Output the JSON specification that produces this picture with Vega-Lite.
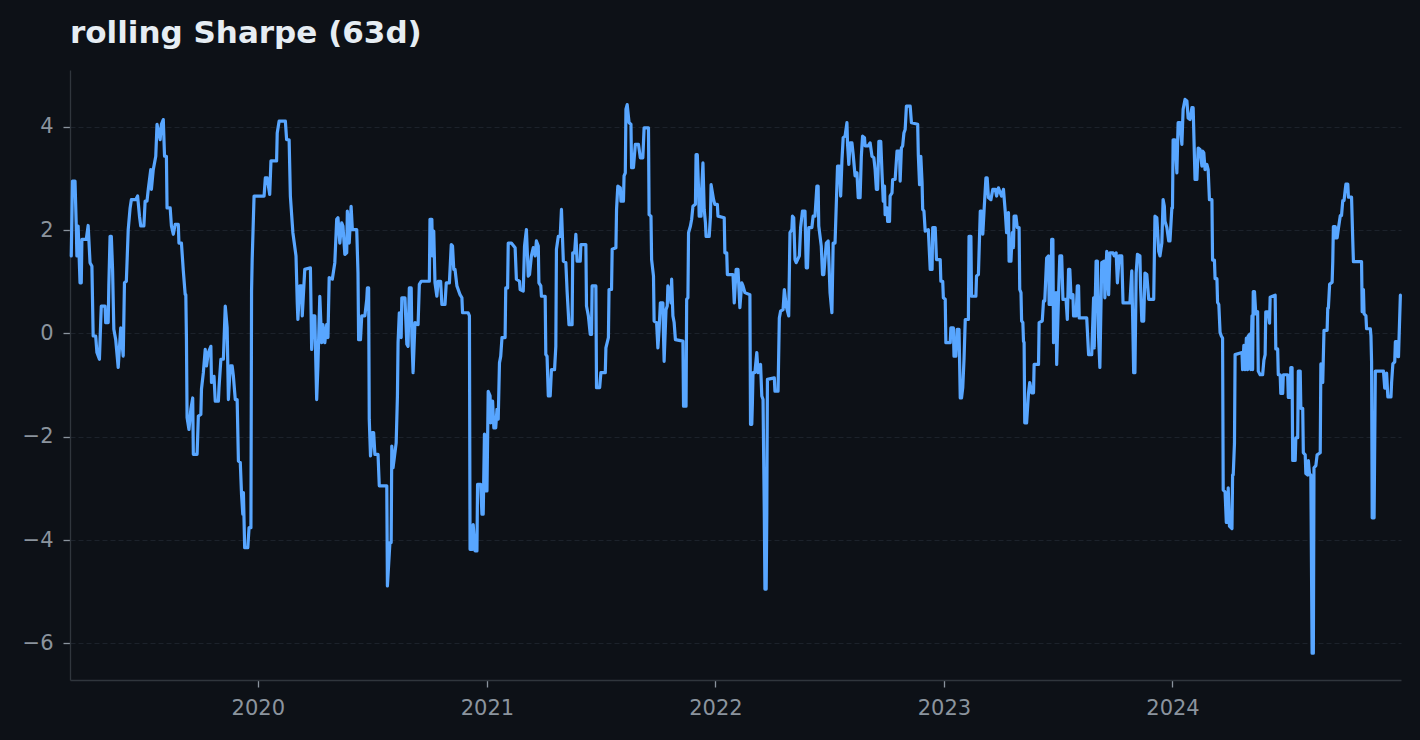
{
  "$schema": "https://vega.github.io/schema/vega-lite/v6.json",
  "width": 1331,
  "height": 610,
  "autosize": {"type": "none"},
  "padding": {"left": 70, "top": 70, "right": 19, "bottom": 60},
  "background": "#0d1117",
  "config": {"view": {"stroke": null}},
  "title": {"text": "rolling Sharpe (63d)", "anchor": "start", "frame": "group", "font": "DejaVu Sans", "fontSize": 31, "fontWeight": "bold", "color": "#e6edf3", "offset": 20},
  "data": {
    "format": {"parse": {"d": "date:'%Y-%j'"}},
    "values": [
      {"d":"2019-068","v":1.50},{"d":"2019-070","v":2.95},{"d":"2019-074","v":2.95},{"d":"2019-076","v":2.08},{"d":"2019-077","v":1.50},{"d":"2019-079","v":2.08},{"d":"2019-082","v":0.98},{"d":"2019-084","v":0.98},{"d":"2019-085","v":1.82},{"d":"2019-092","v":1.82},{"d":"2019-095","v":2.09},{"d":"2019-098","v":1.37},{"d":"2019-101","v":1.30},{"d":"2019-103","v":-0.05},{"d":"2019-107","v":-0.05},{"d":"2019-109","v":-0.37},{"d":"2019-113","v":-0.50},{"d":"2019-115","v":0.21},{"d":"2019-116","v":0.53},{"d":"2019-122","v":0.53},{"d":"2019-123","v":0.21},{"d":"2019-127","v":0.21},{"d":"2019-128","v":0.92},{"d":"2019-130","v":1.88},{"d":"2019-132","v":1.88},{"d":"2019-134","v":1.24},{"d":"2019-136","v":0.08},{"d":"2019-139","v":-0.12},{"d":"2019-143","v":-0.66},{"d":"2019-147","v":0.11},{"d":"2019-151","v":-0.44},{"d":"2019-153","v":0.98},{"d":"2019-156","v":1.01},{"d":"2019-159","v":2.01},{"d":"2019-162","v":2.43},{"d":"2019-164","v":2.59},{"d":"2019-171","v":2.59},{"d":"2019-174","v":2.66},{"d":"2019-177","v":2.27},{"d":"2019-179","v":2.08},{"d":"2019-184","v":2.08},{"d":"2019-186","v":2.56},{"d":"2019-189","v":2.56},{"d":"2019-191","v":2.79},{"d":"2019-195","v":3.17},{"d":"2019-196","v":2.79},{"d":"2019-199","v":3.17},{"d":"2019-203","v":3.43},{"d":"2019-205","v":4.05},{"d":"2019-210","v":3.75},{"d":"2019-212","v":4.05},{"d":"2019-215","v":4.14},{"d":"2019-217","v":3.43},{"d":"2019-220","v":3.43},{"d":"2019-221","v":2.43},{"d":"2019-226","v":2.43},{"d":"2019-228","v":2.08},{"d":"2019-231","v":1.92},{"d":"2019-234","v":2.11},{"d":"2019-239","v":2.11},{"d":"2019-240","v":1.75},{"d":"2019-244","v":1.75},{"d":"2019-247","v":1.21},{"d":"2019-250","v":0.75},{"d":"2019-251","v":0.75},{"d":"2019-252","v":-0.12},{"d":"2019-253","v":-1.63},{"d":"2019-256","v":-1.86},{"d":"2019-259","v":-1.47},{"d":"2019-262","v":-1.25},{"d":"2019-263","v":-2.34},{"d":"2019-269","v":-2.34},{"d":"2019-271","v":-1.60},{"d":"2019-275","v":-1.57},{"d":"2019-276","v":-1.08},{"d":"2019-279","v":-0.76},{"d":"2019-282","v":-0.31},{"d":"2019-284","v":-0.63},{"d":"2019-287","v":-0.37},{"d":"2019-291","v":-0.25},{"d":"2019-292","v":-0.95},{"d":"2019-296","v":-0.83},{"d":"2019-298","v":-1.31},{"d":"2019-303","v":-1.31},{"d":"2019-304","v":-1.05},{"d":"2019-307","v":-0.50},{"d":"2019-311","v":-0.50},{"d":"2019-314","v":0.53},{"d":"2019-317","v":0.11},{"d":"2019-319","v":-1.28},{"d":"2019-322","v":-0.63},{"d":"2019-325","v":-0.63},{"d":"2019-327","v":-0.83},{"d":"2019-330","v":-1.28},{"d":"2019-333","v":-1.28},{"d":"2019-335","v":-2.47},{"d":"2019-338","v":-2.50},{"d":"2019-340","v":-3.12},{"d":"2019-342","v":-3.50},{"d":"2019-343","v":-3.08},{"d":"2019-345","v":-4.15},{"d":"2019-350","v":-4.15},{"d":"2019-352","v":-3.76},{"d":"2019-355","v":-3.76},{"d":"2019-356","v":0.82},{"d":"2019-357","v":1.43},{"d":"2019-360","v":2.66},
      {"d":"2020-011","v":2.66},{"d":"2020-013","v":3.01},{"d":"2020-016","v":3.01},{"d":"2020-020","v":2.69},{"d":"2020-022","v":3.34},{"d":"2020-031","v":3.34},{"d":"2020-032","v":3.88},{"d":"2020-035","v":4.11},{"d":"2020-045","v":4.11},{"d":"2020-047","v":3.75},{"d":"2020-051","v":3.75},{"d":"2020-053","v":2.66},{"d":"2020-057","v":1.95},{"d":"2020-062","v":1.50},{"d":"2020-064","v":0.59},{"d":"2020-065","v":0.27},{"d":"2020-068","v":0.92},{"d":"2020-071","v":0.92},{"d":"2020-072","v":0.34},{"d":"2020-076","v":1.24},{"d":"2020-085","v":1.27},{"d":"2020-087","v":-0.31},{"d":"2020-089","v":0.34},{"d":"2020-092","v":0.34},{"d":"2020-095","v":-1.28},{"d":"2020-097","v":-0.63},{"d":"2020-100","v":0.72},{"d":"2020-103","v":-0.18},{"d":"2020-105","v":0.17},{"d":"2020-108","v":-0.18},{"d":"2020-111","v":0.17},{"d":"2020-113","v":-0.08},{"d":"2020-115","v":1.08},{"d":"2020-120","v":1.05},{"d":"2020-124","v":1.37},{"d":"2020-127","v":2.21},{"d":"2020-129","v":2.24},{"d":"2020-132","v":1.75},{"d":"2020-135","v":2.14},{"d":"2020-137","v":2.08},{"d":"2020-140","v":1.53},{"d":"2020-143","v":1.56},{"d":"2020-144","v":2.37},{"d":"2020-147","v":1.75},{"d":"2020-150","v":2.46},{"d":"2020-152","v":2.01},{"d":"2020-159","v":2.01},{"d":"2020-161","v":1.17},{"d":"2020-162","v":-0.12},{"d":"2020-165","v":-0.12},{"d":"2020-167","v":0.34},{"d":"2020-172","v":0.34},{"d":"2020-175","v":0.66},{"d":"2020-176","v":0.88},{"d":"2020-178","v":0.88},{"d":"2020-179","v":-1.66},{"d":"2020-181","v":-2.37},{"d":"2020-184","v":-1.92},{"d":"2020-186","v":-1.92},{"d":"2020-188","v":-2.34},{"d":"2020-193","v":-2.34},{"d":"2020-195","v":-2.95},{"d":"2020-207","v":-2.95},{"d":"2020-208","v":-4.89},{"d":"2020-212","v":-4.05},{"d":"2020-214","v":-4.05},{"d":"2020-215","v":-2.18},{"d":"2020-217","v":-2.60},{"d":"2020-222","v":-2.12},{"d":"2020-224","v":-1.21},{"d":"2020-225","v":-0.18},{"d":"2020-227","v":0.40},{"d":"2020-230","v":-0.08},{"d":"2020-231","v":0.69},{"d":"2020-236","v":0.69},{"d":"2020-239","v":-0.21},{"d":"2020-241","v":-0.25},{"d":"2020-243","v":0.88},{"d":"2020-246","v":0.88},{"d":"2020-247","v":-0.05},{"d":"2020-249","v":-0.76},{"d":"2020-252","v":0.21},{"d":"2020-257","v":0.17},{"d":"2020-259","v":0.95},{"d":"2020-262","v":1.01},{"d":"2020-275","v":1.01},{"d":"2020-276","v":2.21},{"d":"2020-279","v":2.21},{"d":"2020-280","v":1.50},{"d":"2020-282","v":1.98},{"d":"2020-284","v":0.98},{"d":"2020-287","v":0.72},{"d":"2020-289","v":1.01},{"d":"2020-293","v":1.01},{"d":"2020-295","v":0.56},{"d":"2020-300","v":0.56},{"d":"2020-302","v":0.98},{"d":"2020-307","v":0.98},{"d":"2020-310","v":1.72},{"d":"2020-312","v":1.69},{"d":"2020-314","v":1.24},{"d":"2020-316","v":1.24},{"d":"2020-319","v":0.92},{"d":"2020-324","v":0.75},{"d":"2020-327","v":0.69},{"d":"2020-328","v":0.40},{"d":"2020-337","v":0.40},{"d":"2020-339","v":0.34},{"d":"2020-340","v":-4.18},{"d":"2020-344","v":-4.18},{"d":"2020-345","v":-3.70},{"d":"2020-348","v":-4.21},{"d":"2020-351","v":-4.21},{"d":"2020-352","v":-2.92},{"d":"2020-357","v":-2.92},{"d":"2020-359","v":-3.50},{"d":"2020-361","v":-3.50},{"d":"2020-363","v":-1.95},{"d":"2020-365","v":-3.05},
      {"d":"2021-001","v":-3.05},{"d":"2021-003","v":-1.12},{"d":"2021-006","v":-1.21},{"d":"2021-007","v":-1.73},{"d":"2021-010","v":-1.31},{"d":"2021-012","v":-1.83},{"d":"2021-015","v":-1.83},{"d":"2021-017","v":-1.47},{"d":"2021-019","v":-1.66},{"d":"2021-021","v":-0.57},{"d":"2021-023","v":-0.44},{"d":"2021-025","v":-0.08},{"d":"2021-030","v":-0.08},{"d":"2021-031","v":0.88},{"d":"2021-034","v":0.88},{"d":"2021-035","v":1.75},{"d":"2021-040","v":1.75},{"d":"2021-046","v":1.66},{"d":"2021-048","v":1.05},{"d":"2021-053","v":1.01},{"d":"2021-054","v":0.85},{"d":"2021-059","v":0.82},{"d":"2021-061","v":1.69},{"d":"2021-064","v":2.01},{"d":"2021-067","v":1.11},{"d":"2021-069","v":1.14},{"d":"2021-072","v":1.50},{"d":"2021-075","v":1.66},{"d":"2021-078","v":1.50},{"d":"2021-080","v":1.79},{"d":"2021-083","v":1.69},{"d":"2021-084","v":0.98},{"d":"2021-087","v":0.92},{"d":"2021-088","v":0.72},{"d":"2021-094","v":0.72},{"d":"2021-095","v":-0.41},{"d":"2021-097","v":-0.44},{"d":"2021-099","v":-1.21},{"d":"2021-102","v":-1.21},{"d":"2021-104","v":-0.70},{"d":"2021-109","v":-0.70},{"d":"2021-111","v":-0.25},{"d":"2021-112","v":1.63},{"d":"2021-115","v":1.88},{"d":"2021-118","v":1.88},{"d":"2021-120","v":2.40},{"d":"2021-123","v":1.40},{"d":"2021-127","v":1.37},{"d":"2021-129","v":0.82},{"d":"2021-132","v":0.17},{"d":"2021-137","v":0.17},{"d":"2021-138","v":1.56},{"d":"2021-141","v":1.56},{"d":"2021-143","v":1.92},{"d":"2021-145","v":1.40},{"d":"2021-150","v":1.40},{"d":"2021-151","v":1.72},{"d":"2021-159","v":1.72},{"d":"2021-160","v":0.53},{"d":"2021-163","v":0.34},{"d":"2021-166","v":-0.02},{"d":"2021-168","v":-0.02},{"d":"2021-169","v":0.92},{"d":"2021-175","v":0.92},{"d":"2021-176","v":-1.05},{"d":"2021-181","v":-1.05},{"d":"2021-183","v":-0.76},{"d":"2021-190","v":-0.76},{"d":"2021-191","v":-0.28},{"d":"2021-195","v":-0.08},{"d":"2021-196","v":0.85},{"d":"2021-200","v":0.85},{"d":"2021-201","v":1.63},{"d":"2021-207","v":1.66},{"d":"2021-208","v":2.40},{"d":"2021-210","v":2.85},{"d":"2021-214","v":2.82},{"d":"2021-215","v":2.56},{"d":"2021-219","v":2.56},{"d":"2021-220","v":3.05},{"d":"2021-222","v":3.11},{"d":"2021-223","v":4.34},{"d":"2021-225","v":4.43},{"d":"2021-228","v":4.08},{"d":"2021-231","v":4.05},{"d":"2021-232","v":3.21},{"d":"2021-235","v":3.21},{"d":"2021-238","v":3.66},{"d":"2021-243","v":3.66},{"d":"2021-246","v":3.40},{"d":"2021-250","v":3.40},{"d":"2021-252","v":3.98},{"d":"2021-259","v":3.98},{"d":"2021-260","v":2.30},{"d":"2021-263","v":2.27},{"d":"2021-264","v":1.43},{"d":"2021-267","v":1.11},{"d":"2021-268","v":0.24},{"d":"2021-272","v":0.21},{"d":"2021-274","v":-0.28},{"d":"2021-276","v":0.08},{"d":"2021-278","v":0.59},{"d":"2021-282","v":0.59},{"d":"2021-283","v":-0.05},{"d":"2021-284","v":-0.54},{"d":"2021-287","v":0.46},{"d":"2021-289","v":0.53},{"d":"2021-290","v":0.92},{"d":"2021-292","v":0.85},{"d":"2021-295","v":0.59},{"d":"2021-296","v":1.05},{"d":"2021-298","v":0.34},{"d":"2021-300","v":0.21},{"d":"2021-302","v":-0.12},{"d":"2021-314","v":-0.15},{"d":"2021-315","v":-1.41},{"d":"2021-319","v":-1.41},{"d":"2021-320","v":0.66},{"d":"2021-322","v":0.69},{"d":"2021-323","v":1.95},{"d":"2021-326","v":2.08},{"d":"2021-328","v":2.21},{"d":"2021-330","v":2.46},{"d":"2021-334","v":2.50},{"d":"2021-335","v":3.46},{"d":"2021-337","v":3.46},{"d":"2021-339","v":2.79},{"d":"2021-340","v":2.27},{"d":"2021-343","v":2.27},{"d":"2021-344","v":2.79},{"d":"2021-346","v":3.30},{"d":"2021-348","v":2.40},{"d":"2021-350","v":2.14},{"d":"2021-351","v":1.88},{"d":"2021-356","v":1.88},{"d":"2021-358","v":2.27},{"d":"2021-359","v":2.88},{"d":"2021-363","v":2.59},{"d":"2021-365","v":2.50},
      {"d":"2022-004","v":2.50},{"d":"2022-005","v":2.27},{"d":"2022-015","v":2.24},{"d":"2022-016","v":1.56},{"d":"2022-019","v":1.56},{"d":"2022-020","v":1.14},{"d":"2022-029","v":1.14},{"d":"2022-031","v":0.59},{"d":"2022-034","v":1.24},{"d":"2022-037","v":1.24},{"d":"2022-040","v":0.50},{"d":"2022-043","v":0.98},{"d":"2022-045","v":0.92},{"d":"2022-048","v":0.79},{"d":"2022-056","v":0.75},{"d":"2022-057","v":-1.76},{"d":"2022-059","v":-1.76},{"d":"2022-060","v":-1.34},{"d":"2022-061","v":-0.76},{"d":"2022-064","v":-0.76},{"d":"2022-067","v":-0.37},{"d":"2022-069","v":-0.76},{"d":"2022-073","v":-0.60},{"d":"2022-075","v":-1.21},{"d":"2022-077","v":-1.28},{"d":"2022-079","v":-3.47},{"d":"2022-080","v":-4.95},{"d":"2022-082","v":-4.95},{"d":"2022-083","v":-3.47},{"d":"2022-084","v":-0.89},{"d":"2022-095","v":-0.86},{"d":"2022-096","v":-1.12},{"d":"2022-101","v":-1.12},{"d":"2022-103","v":0.30},{"d":"2022-105","v":0.43},{"d":"2022-109","v":0.46},{"d":"2022-111","v":0.85},{"d":"2022-114","v":0.53},{"d":"2022-118","v":0.34},{"d":"2022-120","v":1.95},{"d":"2022-123","v":2.01},{"d":"2022-124","v":2.27},{"d":"2022-126","v":2.24},{"d":"2022-128","v":1.43},{"d":"2022-130","v":1.37},{"d":"2022-135","v":1.50},{"d":"2022-137","v":2.05},{"d":"2022-140","v":2.37},{"d":"2022-144","v":2.37},{"d":"2022-146","v":1.27},{"d":"2022-148","v":1.27},{"d":"2022-150","v":2.05},{"d":"2022-155","v":2.05},{"d":"2022-157","v":2.27},{"d":"2022-160","v":2.27},{"d":"2022-163","v":2.85},{"d":"2022-165","v":2.85},{"d":"2022-166","v":2.08},{"d":"2022-170","v":1.69},{"d":"2022-172","v":1.14},{"d":"2022-174","v":1.14},{"d":"2022-178","v":1.75},{"d":"2022-181","v":1.79},{"d":"2022-184","v":0.79},{"d":"2022-187","v":0.40},{"d":"2022-189","v":1.75},{"d":"2022-192","v":1.75},{"d":"2022-194","v":2.50},{"d":"2022-196","v":3.24},{"d":"2022-199","v":3.24},{"d":"2022-201","v":2.66},{"d":"2022-203","v":3.34},{"d":"2022-205","v":3.79},{"d":"2022-208","v":3.82},{"d":"2022-211","v":4.08},{"d":"2022-212","v":3.66},{"d":"2022-214","v":3.27},{"d":"2022-216","v":3.69},{"d":"2022-219","v":3.69},{"d":"2022-221","v":3.46},{"d":"2022-224","v":3.05},{"d":"2022-227","v":3.11},{"d":"2022-229","v":2.63},{"d":"2022-232","v":2.63},{"d":"2022-234","v":3.43},{"d":"2022-236","v":3.82},{"d":"2022-239","v":3.79},{"d":"2022-240","v":3.63},{"d":"2022-245","v":3.63},{"d":"2022-248","v":3.69},{"d":"2022-251","v":3.43},{"d":"2022-254","v":3.40},{"d":"2022-256","v":3.17},{"d":"2022-258","v":2.79},{"d":"2022-260","v":2.79},{"d":"2022-262","v":3.72},{"d":"2022-265","v":3.72},{"d":"2022-267","v":3.11},{"d":"2022-269","v":2.56},{"d":"2022-271","v":2.85},{"d":"2022-272","v":2.30},{"d":"2022-275","v":2.43},{"d":"2022-276","v":2.17},{"d":"2022-279","v":2.17},{"d":"2022-280","v":2.66},{"d":"2022-283","v":2.72},{"d":"2022-284","v":2.98},{"d":"2022-288","v":2.98},{"d":"2022-291","v":3.53},{"d":"2022-295","v":3.53},{"d":"2022-296","v":2.95},{"d":"2022-298","v":3.59},{"d":"2022-300","v":3.63},{"d":"2022-302","v":3.88},{"d":"2022-304","v":3.95},{"d":"2022-306","v":4.40},{"d":"2022-312","v":4.40},{"d":"2022-314","v":4.08},{"d":"2022-324","v":4.05},{"d":"2022-325","v":3.46},{"d":"2022-327","v":2.88},{"d":"2022-329","v":3.43},{"d":"2022-331","v":2.92},{"d":"2022-332","v":2.40},{"d":"2022-334","v":2.37},{"d":"2022-336","v":1.98},{"d":"2022-341","v":2.01},{"d":"2022-344","v":1.24},{"d":"2022-347","v":1.24},{"d":"2022-348","v":2.05},{"d":"2022-352","v":2.05},{"d":"2022-354","v":1.43},{"d":"2022-360","v":1.43},{"d":"2022-361","v":1.01},{"d":"2022-364","v":1.01},{"d":"2022-365","v":0.69},
      {"d":"2023-003","v":0.66},{"d":"2023-004","v":-0.18},{"d":"2023-011","v":-0.18},{"d":"2023-012","v":0.11},{"d":"2023-016","v":0.11},{"d":"2023-017","v":-0.44},{"d":"2023-020","v":-0.44},{"d":"2023-022","v":0.08},{"d":"2023-025","v":0.08},{"d":"2023-027","v":-1.25},{"d":"2023-029","v":-1.25},{"d":"2023-031","v":-1.05},{"d":"2023-033","v":-0.50},{"d":"2023-035","v":0.27},{"d":"2023-040","v":0.27},{"d":"2023-041","v":1.88},{"d":"2023-044","v":1.88},{"d":"2023-045","v":0.72},{"d":"2023-052","v":0.72},{"d":"2023-053","v":1.11},{"d":"2023-056","v":1.14},{"d":"2023-059","v":2.37},{"d":"2023-061","v":2.37},{"d":"2023-063","v":1.92},{"d":"2023-065","v":2.37},{"d":"2023-068","v":3.01},{"d":"2023-070","v":3.01},{"d":"2023-072","v":2.63},{"d":"2023-076","v":2.59},{"d":"2023-079","v":2.79},{"d":"2023-083","v":2.79},{"d":"2023-085","v":2.66},{"d":"2023-088","v":2.82},{"d":"2023-091","v":2.72},{"d":"2023-093","v":2.66},{"d":"2023-096","v":2.79},{"d":"2023-099","v":2.34},{"d":"2023-101","v":1.95},{"d":"2023-104","v":2.34},{"d":"2023-105","v":1.40},{"d":"2023-108","v":1.40},{"d":"2023-110","v":1.95},{"d":"2023-112","v":1.66},{"d":"2023-113","v":2.27},{"d":"2023-116","v":2.27},{"d":"2023-118","v":2.05},{"d":"2023-121","v":2.05},{"d":"2023-122","v":0.85},{"d":"2023-124","v":0.79},{"d":"2023-125","v":0.24},{"d":"2023-127","v":0.21},{"d":"2023-128","v":-0.15},{"d":"2023-129","v":-0.18},{"d":"2023-130","v":-1.73},{"d":"2023-133","v":-1.73},{"d":"2023-136","v":-1.15},{"d":"2023-138","v":-0.95},{"d":"2023-141","v":-1.15},{"d":"2023-144","v":-1.15},{"d":"2023-145","v":-0.60},{"d":"2023-152","v":-0.60},{"d":"2023-153","v":0.21},{"d":"2023-158","v":0.24},{"d":"2023-160","v":0.63},{"d":"2023-162","v":0.63},{"d":"2023-165","v":1.46},{"d":"2023-168","v":1.50},{"d":"2023-169","v":0.56},{"d":"2023-172","v":0.56},{"d":"2023-173","v":1.82},{"d":"2023-175","v":1.82},{"d":"2023-176","v":-0.18},{"d":"2023-178","v":-0.12},{"d":"2023-180","v":0.79},{"d":"2023-181","v":-0.60},{"d":"2023-184","v":0.75},{"d":"2023-186","v":1.50},{"d":"2023-189","v":1.50},{"d":"2023-191","v":0.66},{"d":"2023-196","v":0.66},{"d":"2023-198","v":0.27},{"d":"2023-200","v":1.24},{"d":"2023-202","v":1.24},{"d":"2023-204","v":0.69},{"d":"2023-207","v":0.75},{"d":"2023-208","v":0.34},{"d":"2023-212","v":0.34},{"d":"2023-214","v":0.92},{"d":"2023-216","v":0.92},{"d":"2023-217","v":0.30},{"d":"2023-229","v":0.30},{"d":"2023-232","v":-0.41},{"d":"2023-237","v":-0.41},{"d":"2023-240","v":0.69},{"d":"2023-241","v":-0.28},{"d":"2023-244","v":1.40},{"d":"2023-246","v":1.40},{"d":"2023-248","v":-0.08},{"d":"2023-250","v":-0.66},{"d":"2023-253","v":1.37},{"d":"2023-257","v":1.40},{"d":"2023-258","v":0.69},{"d":"2023-261","v":1.59},{"d":"2023-264","v":0.75},{"d":"2023-266","v":1.56},{"d":"2023-271","v":1.56},{"d":"2023-273","v":1.50},{"d":"2023-276","v":1.56},{"d":"2023-278","v":0.98},{"d":"2023-281","v":1.50},{"d":"2023-285","v":1.50},{"d":"2023-287","v":0.59},{"d":"2023-298","v":0.59},{"d":"2023-301","v":1.21},{"d":"2023-304","v":-0.76},{"d":"2023-306","v":-0.76},{"d":"2023-308","v":1.17},{"d":"2023-310","v":1.53},{"d":"2023-314","v":1.50},{"d":"2023-315","v":0.92},{"d":"2023-317","v":0.24},{"d":"2023-320","v":0.24},{"d":"2023-322","v":1.17},{"d":"2023-325","v":1.14},{"d":"2023-328","v":0.66},{"d":"2023-336","v":0.66},{"d":"2023-338","v":2.27},{"d":"2023-341","v":2.24},{"d":"2023-344","v":1.59},{"d":"2023-346","v":1.50},{"d":"2023-349","v":1.75},{"d":"2023-351","v":2.59},{"d":"2023-353","v":2.46},{"d":"2023-354","v":2.17},{"d":"2023-357","v":2.05},{"d":"2023-360","v":1.79},{"d":"2023-362","v":1.79},{"d":"2023-365","v":2.43},
      {"d":"2024-001","v":2.43},{"d":"2024-002","v":3.75},{"d":"2024-005","v":3.75},{"d":"2024-008","v":3.11},{"d":"2024-010","v":4.08},{"d":"2024-013","v":4.08},{"d":"2024-016","v":3.66},{"d":"2024-018","v":4.34},{"d":"2024-021","v":4.53},{"d":"2024-024","v":4.50},{"d":"2024-026","v":4.17},{"d":"2024-029","v":4.14},{"d":"2024-032","v":4.37},{"d":"2024-034","v":4.37},{"d":"2024-037","v":2.98},{"d":"2024-040","v":2.98},{"d":"2024-042","v":3.59},{"d":"2024-045","v":3.56},{"d":"2024-048","v":3.24},{"d":"2024-049","v":3.53},{"d":"2024-051","v":3.50},{"d":"2024-053","v":3.17},{"d":"2024-056","v":3.27},{"d":"2024-058","v":3.17},{"d":"2024-060","v":2.59},{"d":"2024-064","v":2.59},{"d":"2024-065","v":1.42},{"d":"2024-068","v":1.42},{"d":"2024-069","v":1.06},{"d":"2024-072","v":1.06},{"d":"2024-073","v":0.60},{"d":"2024-075","v":0.56},{"d":"2024-077","v":0.02},{"d":"2024-079","v":-0.05},{"d":"2024-081","v":-0.09},{"d":"2024-082","v":-3.03},{"d":"2024-085","v":-3.07},{"d":"2024-087","v":-3.66},{"d":"2024-089","v":-3.66},{"d":"2024-090","v":-2.99},{"d":"2024-092","v":-3.73},{"d":"2024-096","v":-3.78},{"d":"2024-097","v":-2.74},{"d":"2024-098","v":-2.74},{"d":"2024-100","v":-2.13},{"d":"2024-101","v":-0.41},{"d":"2024-112","v":-0.37},{"d":"2024-113","v":-0.70},{"d":"2024-115","v":-0.23},{"d":"2024-117","v":-0.70},{"d":"2024-119","v":-0.09},{"d":"2024-121","v":-0.70},{"d":"2024-122","v":-0.05},{"d":"2024-125","v":-0.01},{"d":"2024-126","v":-0.70},{"d":"2024-128","v":0.34},{"d":"2024-129","v":-0.70},{"d":"2024-130","v":0.81},{"d":"2024-132","v":0.81},{"d":"2024-134","v":0.38},{"d":"2024-137","v":0.42},{"d":"2024-138","v":-0.73},{"d":"2024-141","v":-0.80},{"d":"2024-145","v":-0.80},{"d":"2024-147","v":-0.52},{"d":"2024-149","v":-0.41},{"d":"2024-150","v":0.42},{"d":"2024-154","v":0.42},{"d":"2024-156","v":0.20},{"d":"2024-157","v":0.70},{"d":"2024-165","v":0.74},{"d":"2024-166","v":-0.30},{"d":"2024-169","v":-0.30},{"d":"2024-170","v":-0.80},{"d":"2024-173","v":-0.80},{"d":"2024-174","v":-1.16},{"d":"2024-177","v":-1.16},{"d":"2024-178","v":-0.80},{"d":"2024-185","v":-0.80},{"d":"2024-186","v":-1.24},{"d":"2024-189","v":-1.24},{"d":"2024-190","v":-0.66},{"d":"2024-192","v":-0.66},{"d":"2024-193","v":-2.46},{"d":"2024-197","v":-2.46},{"d":"2024-198","v":-2.02},{"d":"2024-201","v":-2.02},{"d":"2024-202","v":-0.73},{"d":"2024-205","v":-0.73},{"d":"2024-206","v":-1.45},{"d":"2024-209","v":-1.45},{"d":"2024-210","v":-2.31},{"d":"2024-213","v":-2.35},{"d":"2024-214","v":-2.71},{"d":"2024-217","v":-2.74},{"d":"2024-218","v":-2.46},{"d":"2024-220","v":-2.74},{"d":"2024-222","v":-2.74},{"d":"2024-224","v":-6.19},{"d":"2024-226","v":-6.19},{"d":"2024-227","v":-2.60},{"d":"2024-230","v":-2.56},{"d":"2024-232","v":-2.35},{"d":"2024-237","v":-2.31},{"d":"2024-238","v":-0.59},{"d":"2024-240","v":-0.95},{"d":"2024-241","v":-0.95},{"d":"2024-243","v":0.06},{"d":"2024-248","v":0.06},{"d":"2024-249","v":0.49},{"d":"2024-250","v":0.49},{"d":"2024-252","v":0.95},{"d":"2024-256","v":0.99},{"d":"2024-257","v":1.39},{"d":"2024-258","v":2.07},{"d":"2024-261","v":2.07},{"d":"2024-262","v":1.85},{"d":"2024-264","v":1.85},{"d":"2024-266","v":2.03},{"d":"2024-269","v":2.28},{"d":"2024-271","v":2.28},{"d":"2024-273","v":2.57},{"d":"2024-275","v":2.57},{"d":"2024-277","v":2.79},{"d":"2024-278","v":2.89},{"d":"2024-281","v":2.89},{"d":"2024-282","v":2.64},{"d":"2024-287","v":2.64},{"d":"2024-289","v":1.78},{"d":"2024-290","v":1.39},{"d":"2024-303","v":1.39},{"d":"2024-304","v":0.42},{"d":"2024-306","v":0.85},{"d":"2024-307","v":0.38},{"d":"2024-310","v":0.34},{"d":"2024-311","v":0.09},{"d":"2024-317","v":0.09},{"d":"2024-318","v":-0.05},{"d":"2024-319","v":-0.55},{"d":"2024-320","v":-3.57},{"d":"2024-323","v":-3.57},{"d":"2024-325","v":-0.73},{"d":"2024-338","v":-0.73},{"d":"2024-340","v":-1.06},{"d":"2024-342","v":-1.06},{"d":"2024-343","v":-0.77},{"d":"2024-345","v":-1.23},{"d":"2024-350","v":-1.23},{"d":"2024-351","v":-0.95},{"d":"2024-353","v":-0.59},{"d":"2024-356","v":-0.55},{"d":"2024-357","v":-0.16},{"d":"2024-359","v":-0.16},{"d":"2024-361","v":-0.45},{"d":"2024-362","v":-0.45},{"d":"2024-365","v":0.74}
    ]
  },
  "mark": {"type": "line", "color": "#58a6ff", "strokeWidth": 3.2, "strokeJoin": "round", "strokeCap": "round"},
  "encoding": {
    "x": {
      "field": "d", "type": "temporal",
      "scale": {"domain": [{"year": 2019, "month": 3, "date": 7}, {"year": 2024, "month": 12, "date": 31}], "nice": false},
      "axis": {"title": null, "format": "%Y", "tickCount": {"interval": "year", "step": 1}, "grid": false, "domainColor": "#30363d", "domainWidth": 1.3, "tickColor": "#8b949e", "tickSize": 7, "tickWidth": 1.3, "labelColor": "#8b949e", "labelFont": "DejaVu Sans", "labelFontSize": 21, "labelPadding": 10, "labelFlush": false}
    },
    "y": {
      "field": "v", "type": "quantitative",
      "scale": {"domain": [-6.71, 5.1], "nice": false, "zero": false},
      "axis": {"title": null, "values": [-6, -4, -2, 0, 2, 4], "grid": true, "gridColor": "#1c222b", "gridDash": [5, 3], "gridWidth": 1.2, "domainColor": "#30363d", "domainWidth": 1.3, "tickColor": "#8b949e", "tickSize": 7, "tickWidth": 1.3, "labelColor": "#8b949e", "labelFont": "DejaVu Sans", "labelFontSize": 21, "labelPadding": 10}
    }
  }
}
